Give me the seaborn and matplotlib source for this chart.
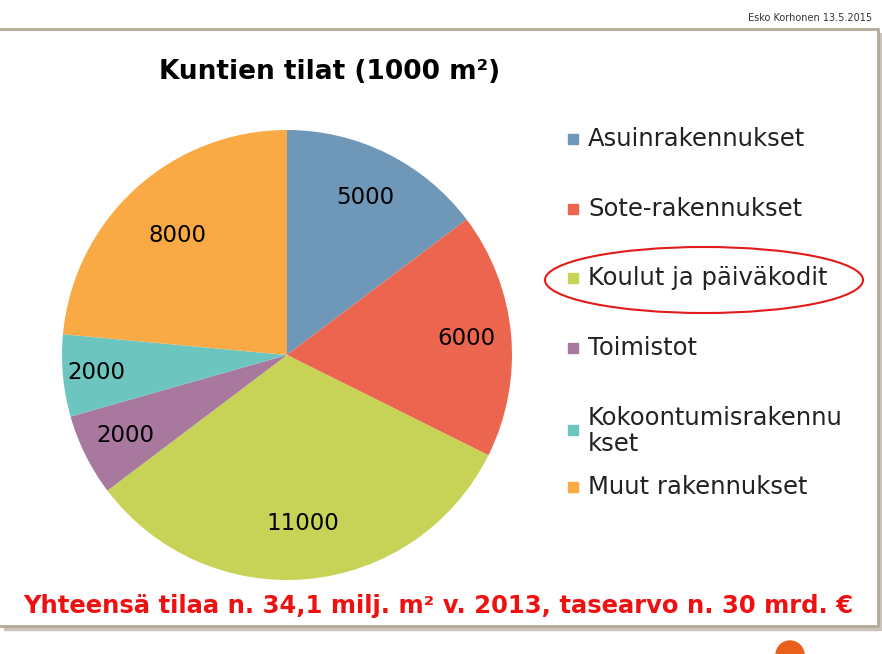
import numpy as np
import matplotlib.pyplot as plt
import seaborn as sns
from matplotlib.patches import Ellipse, Rectangle, Circle

sns.set_theme(style="white")
plt.rcParams['font.family'] = ['DejaVu Sans']

# Donnees
categories = ["Asuinrakennukset", "Sote-rakennukset", "Koulut ja päiväkodit",
              "Toimistot", "Kokoontumisrakennu\nkset", "Muut rakennukset"]
values = [5000, 6000, 11000, 2000, 2000, 8000]
colors = ["#6f98b8", "#ec654e", "#c6d356", "#a8789f", "#6cc6bf", "#f9aa45"]

fig = plt.figure(figsize=(8.82, 6.54), dpi=100)

# calque de fond en pixels
bg = fig.add_axes([0, 0, 1, 1])
bg.set_xlim(0, 882)
bg.set_ylim(654, 0)
bg.axis("off")
bg.add_patch(Rectangle((4, 33), 877, 597, color="#c9c3bb", zorder=0))
bg.add_patch(Rectangle((-2, 29), 880, 597, facecolor="white", edgecolor="#b4a898", lw=2, zorder=1))
bg.add_patch(Circle((790, 655), 14, color="#e8601c", zorder=1))
bg.text(872, 18, "Esko Korhonen 13.5.2015", ha="right", va="center", fontsize=7, color="#333333")
bg.text(330, 72, "Kuntien tilat (1000 m²)", ha="center", va="center", fontsize=19,
        fontweight="bold", color="black")
bg.text(438, 606, "Yhteensä tilaa n. 34,1 milj. m² v. 2013, tasearvo n. 30 mrd. €",
        ha="center", va="center", fontsize=17.5, fontweight="bold", color="#ee1111")

# legende
leg_y = [139, 209, 278, 348, 430, 487]
for cat, col, y in zip(categories, colors, leg_y):
    bg.add_patch(Rectangle((568, y - 5), 10, 10, color=col, zorder=2))
    bg.text(588, y if "\n" not in cat else y + 1, cat, ha="left", va="center",
            fontsize=17.5, color="#222222", linespacing=1.1, zorder=2)

# ellipses rouges
bg.add_patch(Ellipse((704, 280), 318, 66, fill=False, edgecolor="#e21a1a", lw=1.5, zorder=3))
bg.add_patch(Ellipse((310, 524), 122, 50, fill=False, edgecolor="#e21a1a", lw=1.5, zorder=3))

# camembert
ax = fig.add_axes([62 / 882, (654 - 355 - 225) / 654, 450 / 882, 450 / 654])
ax.pie(values, colors=colors, startangle=90, counterclock=False,
       labels=[str(v) for v in values], labeldistance=None,
       wedgeprops=dict(linewidth=0))
ax.set_aspect("equal")
ax.set_xlim(-1, 1)
ax.set_ylim(-1, 1)

# etiquettes des valeurs
angles = 90 - np.cumsum([0] + values[:-1]) / sum(values) * 360 - np.array(values) / sum(values) * 180
dists = [0.78, 0.8, 0.75, 0.8, 0.85, 0.72]
for v, a, d in zip(values, np.radians(angles), dists):
    ax.text(d * np.cos(a), d * np.sin(a), str(v), ha="center", va="center",
            fontsize=16.5, color="black")
ax.axis("off")

fig.savefig("out.png", dpi=100)
